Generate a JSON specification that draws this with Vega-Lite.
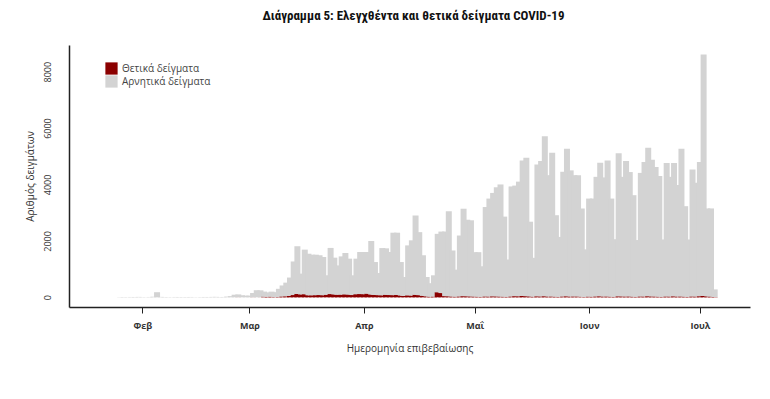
{
  "$schema": "https://vega.github.io/schema/vega-lite/v6.json",
  "width": 681,
  "height": 262,
  "autosize": "none",
  "padding": {"left": 69, "top": 45, "right": 20, "bottom": 92},
  "background": "white",
  "title": {
    "text": "Διάγραμμα 5: Ελεγχθέντα και θετικά δείγματα COVID-19",
    "font": "Liberation Sans Narrow, Roboto Condensed, Open Sans",
    "fontSize": 13,
    "fontWeight": "bold",
    "color": "#111111",
    "anchor": "middle",
    "offset": 22,
    "dx": 4
  },
  "config": {
    "view": {"stroke": null},
    "font": "Open Sans",
    "axis": {"grid": false, "domainColor": "#222222", "domainWidth": 1.5, "tickColor": "#222222", "labelColor": "#333333", "titleColor": "#333333", "labelFont": "Open Sans", "titleFont": "Open Sans", "labelFontSize": 9, "titleFontSize": 10, "titleFontWeight": "normal"}
  },
  "data": {
    "values": [
      {"date": "2020-01-20", "positive": 0, "negative": 0},
      {"date": "2020-01-21", "positive": 0, "negative": 0},
      {"date": "2020-01-22", "positive": 0, "negative": 0},
      {"date": "2020-01-23", "positive": 0, "negative": 0},
      {"date": "2020-01-24", "positive": 0, "negative": 0},
      {"date": "2020-01-25", "positive": 0, "negative": 0},
      {"date": "2020-01-26", "positive": 0, "negative": 8},
      {"date": "2020-01-27", "positive": 0, "negative": 10},
      {"date": "2020-01-28", "positive": 0, "negative": 6},
      {"date": "2020-01-29", "positive": 0, "negative": 12},
      {"date": "2020-01-30", "positive": 0, "negative": 10},
      {"date": "2020-01-31", "positive": 0, "negative": 14},
      {"date": "2020-02-01", "positive": 0, "negative": 8},
      {"date": "2020-02-02", "positive": 0, "negative": 5},
      {"date": "2020-02-03", "positive": 0, "negative": 12},
      {"date": "2020-02-04", "positive": 0, "negative": 20},
      {"date": "2020-02-05", "positive": 0, "negative": 180},
      {"date": "2020-02-06", "positive": 0, "negative": 15},
      {"date": "2020-02-07", "positive": 0, "negative": 10},
      {"date": "2020-02-08", "positive": 0, "negative": 8},
      {"date": "2020-02-09", "positive": 0, "negative": 6},
      {"date": "2020-02-10", "positive": 0, "negative": 12},
      {"date": "2020-02-11", "positive": 0, "negative": 10},
      {"date": "2020-02-12", "positive": 0, "negative": 8},
      {"date": "2020-02-13", "positive": 0, "negative": 10},
      {"date": "2020-02-14", "positive": 0, "negative": 12},
      {"date": "2020-02-15", "positive": 0, "negative": 6},
      {"date": "2020-02-16", "positive": 0, "negative": 5},
      {"date": "2020-02-17", "positive": 0, "negative": 10},
      {"date": "2020-02-18", "positive": 0, "negative": 12},
      {"date": "2020-02-19", "positive": 0, "negative": 10},
      {"date": "2020-02-20", "positive": 0, "negative": 14},
      {"date": "2020-02-21", "positive": 0, "negative": 15},
      {"date": "2020-02-22", "positive": 0, "negative": 10},
      {"date": "2020-02-23", "positive": 0, "negative": 12},
      {"date": "2020-02-24", "positive": 0, "negative": 25},
      {"date": "2020-02-25", "positive": 0, "negative": 40},
      {"date": "2020-02-26", "positive": 1, "negative": 90},
      {"date": "2020-02-27", "positive": 2, "negative": 100},
      {"date": "2020-02-28", "positive": 1, "negative": 70},
      {"date": "2020-02-29", "positive": 0, "negative": 60},
      {"date": "2020-03-01", "positive": 0, "negative": 60},
      {"date": "2020-03-02", "positive": 3, "negative": 150},
      {"date": "2020-03-03", "positive": 1, "negative": 250},
      {"date": "2020-03-04", "positive": 2, "negative": 245},
      {"date": "2020-03-05", "positive": 22, "negative": 180},
      {"date": "2020-03-06", "positive": 14, "negative": 160},
      {"date": "2020-03-07", "positive": 21, "negative": 180},
      {"date": "2020-03-08", "positive": 7, "negative": 175},
      {"date": "2020-03-09", "positive": 11, "negative": 290},
      {"date": "2020-03-10", "positive": 30, "negative": 390},
      {"date": "2020-03-11", "positive": 35, "negative": 485},
      {"date": "2020-03-12", "positive": 50, "negative": 650},
      {"date": "2020-03-13", "positive": 80, "negative": 1190},
      {"date": "2020-03-14", "positive": 120, "negative": 1690},
      {"date": "2020-03-15", "positive": 100, "negative": 740},
      {"date": "2020-03-16", "positive": 110, "negative": 1580},
      {"date": "2020-03-17", "positive": 70, "negative": 1475},
      {"date": "2020-03-18", "positive": 70, "negative": 1440},
      {"date": "2020-03-19", "positive": 75, "negative": 1435},
      {"date": "2020-03-20", "positive": 80, "negative": 1410},
      {"date": "2020-03-21", "positive": 75, "negative": 1355},
      {"date": "2020-03-22", "positive": 90, "negative": 690},
      {"date": "2020-03-23", "positive": 115, "negative": 1635},
      {"date": "2020-03-24", "positive": 100, "negative": 1305},
      {"date": "2020-03-25", "positive": 90, "negative": 1040},
      {"date": "2020-03-26", "positive": 95, "negative": 1355},
      {"date": "2020-03-27", "positive": 105, "negative": 1465},
      {"date": "2020-03-28", "positive": 95, "negative": 1275},
      {"date": "2020-03-29", "positive": 80, "negative": 700},
      {"date": "2020-03-30", "positive": 110, "negative": 1260},
      {"date": "2020-03-31", "positive": 115, "negative": 1490},
      {"date": "2020-04-01", "positive": 110, "negative": 1495},
      {"date": "2020-04-02", "positive": 130, "negative": 1475},
      {"date": "2020-04-03", "positive": 95, "negative": 1900},
      {"date": "2020-04-04", "positive": 85, "negative": 1165},
      {"date": "2020-04-05", "positive": 75, "negative": 785},
      {"date": "2020-04-06", "positive": 70, "negative": 1675},
      {"date": "2020-04-07", "positive": 90, "negative": 1645},
      {"date": "2020-04-08", "positive": 80, "negative": 1525},
      {"date": "2020-04-09", "positive": 75, "negative": 2215},
      {"date": "2020-04-10", "positive": 85, "negative": 2205},
      {"date": "2020-04-11", "positive": 60, "negative": 1190},
      {"date": "2020-04-12", "positive": 45, "negative": 675},
      {"date": "2020-04-13", "positive": 70, "negative": 1770},
      {"date": "2020-04-14", "positive": 60, "negative": 1960},
      {"date": "2020-04-15", "positive": 90, "negative": 2810},
      {"date": "2020-04-16", "positive": 75, "negative": 2235},
      {"date": "2020-04-17", "positive": 50, "negative": 1440},
      {"date": "2020-04-18", "positive": 30, "negative": 690},
      {"date": "2020-04-19", "positive": 20, "negative": 480},
      {"date": "2020-04-20", "positive": 25, "negative": 755},
      {"date": "2020-04-21", "positive": 180, "negative": 2070},
      {"date": "2020-04-22", "positive": 150, "negative": 2180},
      {"date": "2020-04-23", "positive": 40, "negative": 2290},
      {"date": "2020-04-24", "positive": 35, "negative": 3015},
      {"date": "2020-04-25", "positive": 25, "negative": 1635},
      {"date": "2020-04-26", "positive": 20, "negative": 960},
      {"date": "2020-04-27", "positive": 30, "negative": 2160},
      {"date": "2020-04-28", "positive": 40, "negative": 3100},
      {"date": "2020-04-29", "positive": 35, "negative": 2715},
      {"date": "2020-04-30", "positive": 30, "negative": 2700},
      {"date": "2020-05-01", "positive": 25, "negative": 1575},
      {"date": "2020-05-02", "positive": 20, "negative": 1580},
      {"date": "2020-05-03", "positive": 15, "negative": 1085},
      {"date": "2020-05-04", "positive": 30, "negative": 3170},
      {"date": "2020-05-05", "positive": 25, "negative": 3475},
      {"date": "2020-05-06", "positive": 35, "negative": 3665},
      {"date": "2020-05-07", "positive": 30, "negative": 3870},
      {"date": "2020-05-08", "positive": 25, "negative": 3975},
      {"date": "2020-05-09", "positive": 20, "negative": 2840},
      {"date": "2020-05-10", "positive": 15, "negative": 1325},
      {"date": "2020-05-11", "positive": 30, "negative": 3900},
      {"date": "2020-05-12", "positive": 40, "negative": 3920},
      {"date": "2020-05-13", "positive": 35, "negative": 4065},
      {"date": "2020-05-14", "positive": 45, "negative": 4805},
      {"date": "2020-05-15", "positive": 40, "negative": 4910},
      {"date": "2020-05-16", "positive": 30, "negative": 2650},
      {"date": "2020-05-17", "positive": 20, "negative": 1380},
      {"date": "2020-05-18", "positive": 35, "negative": 4675},
      {"date": "2020-05-19", "positive": 30, "negative": 4800},
      {"date": "2020-05-20", "positive": 40, "negative": 5670},
      {"date": "2020-05-21", "positive": 25, "negative": 4305},
      {"date": "2020-05-22", "positive": 30, "negative": 5090},
      {"date": "2020-05-23", "positive": 20, "negative": 2890},
      {"date": "2020-05-24", "positive": 15, "negative": 2125},
      {"date": "2020-05-25", "positive": 30, "negative": 4420},
      {"date": "2020-05-26", "positive": 35, "negative": 5235},
      {"date": "2020-05-27", "positive": 25, "negative": 4475},
      {"date": "2020-05-28", "positive": 30, "negative": 4300},
      {"date": "2020-05-29", "positive": 25, "negative": 4305},
      {"date": "2020-05-30", "positive": 20, "negative": 3130},
      {"date": "2020-05-31", "positive": 10, "negative": 1690},
      {"date": "2020-06-01", "positive": 25, "negative": 3475},
      {"date": "2020-06-02", "positive": 20, "negative": 3480},
      {"date": "2020-06-03", "positive": 30, "negative": 4240},
      {"date": "2020-06-04", "positive": 35, "negative": 4735},
      {"date": "2020-06-05", "positive": 25, "negative": 4225},
      {"date": "2020-06-06", "positive": 30, "negative": 4820},
      {"date": "2020-06-07", "positive": 20, "negative": 3480},
      {"date": "2020-06-08", "positive": 15, "negative": 2045},
      {"date": "2020-06-09", "positive": 35, "negative": 5075},
      {"date": "2020-06-10", "positive": 30, "negative": 4240},
      {"date": "2020-06-11", "positive": 25, "negative": 4805},
      {"date": "2020-06-12", "positive": 30, "negative": 4410},
      {"date": "2020-06-13", "positive": 20, "negative": 3600},
      {"date": "2020-06-14", "positive": 15, "negative": 2015},
      {"date": "2020-06-15", "positive": 30, "negative": 4380},
      {"date": "2020-06-16", "positive": 25, "negative": 4775},
      {"date": "2020-06-17", "positive": 40, "negative": 5260},
      {"date": "2020-06-18", "positive": 30, "negative": 4850},
      {"date": "2020-06-19", "positive": 25, "negative": 4595},
      {"date": "2020-06-20", "positive": 20, "negative": 4280},
      {"date": "2020-06-21", "positive": 15, "negative": 2035},
      {"date": "2020-06-22", "positive": 30, "negative": 4735},
      {"date": "2020-06-23", "positive": 25, "negative": 4245},
      {"date": "2020-06-24", "positive": 35, "negative": 4730},
      {"date": "2020-06-25", "positive": 25, "negative": 3955},
      {"date": "2020-06-26", "positive": 30, "negative": 5240},
      {"date": "2020-06-27", "positive": 20, "negative": 3210},
      {"date": "2020-06-28", "positive": 15, "negative": 2035},
      {"date": "2020-06-29", "positive": 30, "negative": 4500},
      {"date": "2020-06-30", "positive": 25, "negative": 4035},
      {"date": "2020-07-01", "positive": 40, "negative": 4760},
      {"date": "2020-07-02", "positive": 50, "negative": 8560},
      {"date": "2020-07-03", "positive": 30, "negative": 3120},
      {"date": "2020-07-04", "positive": 25, "negative": 3125},
      {"date": "2020-07-05", "positive": 10, "negative": 270}
    ]
  },
  "transform": [
    {"fold": ["positive", "negative"], "as": ["type", "count"]}
  ],
  "mark": {"type": "bar", "size": 6, "strokeWidth": 0},
  "encoding": {
    "x": {
      "field": "date",
      "type": "temporal",
      "scale": {"type": "utc", "domain": ["2020-01-13T12:14:00Z", "2020-07-13T05:00:00Z"], "nice": false},
      "axis": {
        "title": "Ημερομηνία επιβεβαίωσης",
        "tickCount": {"interval": "month", "step": 1},
        "labelExpr": "['Ιαν','Φεβ','Μαρ','Απρ','Μαΐ','Ιουν','Ιουλ','Αυγ'][utcmonth(datum.value)]",
        "tickSize": 6,
        "labelPadding": 8,
        "titlePadding": 13,
        "labelFontWeight": "bold",
        "labelFlush": false
      }
    },
    "y": {
      "field": "count",
      "type": "quantitative",
      "stack": "zero",
      "scale": {"domain": [-344, 8944], "nice": false, "zero": false},
      "axis": {
        "title": "Αριθμός δειγμάτων",
        "values": [0, 2000, 4000, 6000, 8000],
        "format": "d",
        "ticks": false,
        "tickSize": 0,
        "labelAngle": -90,
        "labelAlign": "center",
        "labelBaseline": "bottom",
        "labelPadding": 17,
        "titlePadding": 8
      }
    },
    "color": {
      "field": "type",
      "type": "nominal",
      "scale": {"domain": ["positive", "negative"], "range": ["#8b0000", "#d3d3d3"]},
      "legend": {
        "title": null,
        "orient": "none",
        "legendX": 36,
        "legendY": 17,
        "symbolType": "square",
        "symbolSize": 150,
        "symbolStrokeWidth": 0,
        "rowPadding": 0,
        "labelFontSize": 10,
        "labelColor": "#444444",
        "labelFont": "Open Sans",
        "labelExpr": "datum.value == 'positive' ? 'Θετικά δείγματα' : 'Αρνητικά δείγματα'"
      }
    },
    "order": {"field": "type", "sort": "descending"}
  }
}
